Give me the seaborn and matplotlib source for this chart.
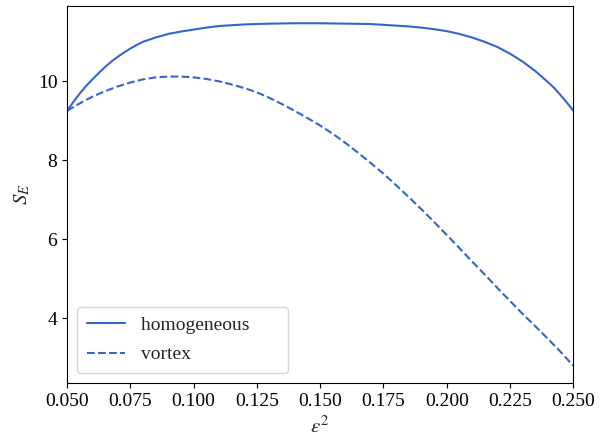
import numpy as np
import pandas as pd
import matplotlib
matplotlib.use("Agg")
import matplotlib.pyplot as plt
import seaborn as sns

# Values
eps2_hom = [0.050, 0.0525, 0.055, 0.0575, 0.060, 0.0625, 0.065, 0.0675, 0.070,
            0.0725, 0.075, 0.0775, 0.080, 0.085, 0.090, 0.095, 0.100, 0.105,
            0.110, 0.115, 0.120, 0.130, 0.140, 0.150, 0.160, 0.170, 0.175,
            0.180, 0.185, 0.190, 0.195, 0.200, 0.205, 0.210, 0.215, 0.220,
            0.225, 0.230, 0.235, 0.240, 0.2425, 0.245, 0.2475, 0.250]
se_hom = [9.25, 9.48, 9.69, 9.88, 10.05, 10.21, 10.36, 10.50, 10.62,
          10.73, 10.83, 10.92, 11.00, 11.11, 11.20, 11.26, 11.31, 11.36,
          11.40, 11.42, 11.44, 11.46, 11.47, 11.47, 11.46, 11.45, 11.43,
          11.41, 11.39, 11.36, 11.32, 11.27, 11.20, 11.11, 11.00, 10.87,
          10.70, 10.50, 10.26, 9.98, 9.83, 9.65, 9.46, 9.26]

eps2_vor = [0.050, 0.0525, 0.055, 0.0575, 0.060, 0.0625, 0.065, 0.0675, 0.070,
            0.0725, 0.075, 0.080, 0.085, 0.090, 0.095, 0.100, 0.105, 0.110,
            0.115, 0.120, 0.125, 0.130, 0.135, 0.140, 0.145, 0.150, 0.155,
            0.160, 0.165, 0.170, 0.175, 0.180, 0.185, 0.190, 0.195, 0.200,
            0.205, 0.210, 0.215, 0.220, 0.225, 0.230, 0.235, 0.240, 0.245,
            0.250]
se_vor = [9.25, 9.35, 9.44, 9.53, 9.61, 9.68, 9.75, 9.81, 9.87,
          9.92, 9.97, 10.05, 10.10, 10.12, 10.12, 10.10, 10.06, 10.00,
          9.92, 9.83, 9.72, 9.58, 9.42, 9.25, 9.07, 8.88, 8.67,
          8.44, 8.19, 7.93, 7.66, 7.37, 7.07, 6.76, 6.44, 6.11,
          5.78, 5.44, 5.11, 4.77, 4.44, 4.11, 3.80, 3.48, 3.15,
          2.80]

sns.set_style("ticks")
plt.rcParams["font.family"] = ["Liberation Serif", "DejaVu Serif"]
plt.rcParams["mathtext.fontset"] = "stix"
plt.rcParams["axes.edgecolor"] = "black"
plt.rcParams["xtick.color"] = "black"
plt.rcParams["ytick.color"] = "black"
plt.rcParams["xtick.major.size"] = 3.5
plt.rcParams["ytick.major.size"] = 3.5

color = "#3366cc"

fig, ax = plt.subplots(figsize=(5.99, 4.38), dpi=100)
fig.subplots_adjust(left=0.112, right=0.957, top=0.986, bottom=0.126)

# trailing spaces widen the legend box like in the original
sns.lineplot(x=eps2_hom, y=se_hom, ax=ax, color=color, linewidth=1.5,
             label="homogeneous      ")
sns.lineplot(x=eps2_vor, y=se_vor, ax=ax, color=color, linewidth=1.5,
             linestyle="--", label="vortex")

ax.set_xlim(0.05, 0.25)
ax.set_xticks(np.arange(0.05, 0.2501, 0.025))
ax.set_yticks([4, 6, 8, 10])
ax.tick_params(labelsize=14)
ax.set_xlabel(r"$\epsilon^2$", fontsize=15, labelpad=5)
ax.set_ylabel(r"$S_E$", fontsize=15)
ax.legend(loc="lower left", fontsize=14, labelspacing=0.6, borderpad=0.5,
          handlelength=2.0)

fig.savefig("out.png", dpi=100)
